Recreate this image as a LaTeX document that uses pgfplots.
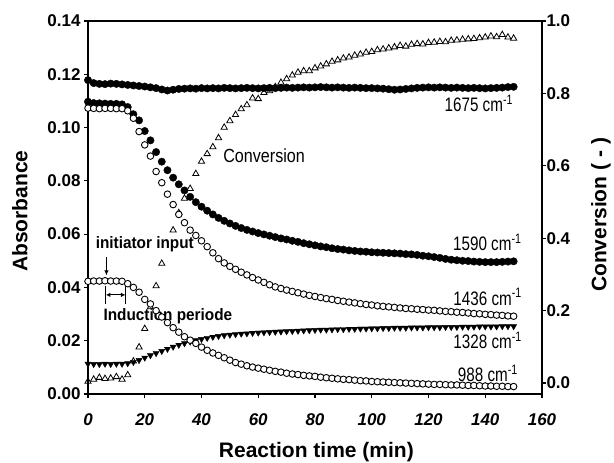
\documentclass[border=0pt]{standalone}
\usepackage{fontspec}
\setmainfont{Liberation Sans}
\usepackage{graphicx}
\usepackage{pgfplots}
\usepackage{pgfplotstable}
\pgfplotsset{compat=1.18}
\usetikzlibrary{arrows.meta}

% FTIR band absorbances and conversion during the polymerisation
\pgfplotstableread{
t    A1675  A1590  A1436  A1328  A988   conv
0    .1178  .1097  .1073  .0113  .0423  .004
2    .1167  .1092  .1072  .0112  .0424  .010
4    .1164  .1091  .1071  .0112  .0424  .015
6    .1163  .1090  .1072  .0113  .0425  .012
8    .1165  .1089  .1072  .0112  .0424  .013
10   .1164  .1089  .1071  .0113  .0424  .017
12   .1162  .1087  .1071  .0113  .0423  .010
14   .1160  .1077  .1063  .0115  .0414  .022
16   .1158  .1050  .1035  .0120  .0400  .060
18   .1156  .1027  .0985  .0127  .0382  .099
20   .1154  .0987  .0935  .0136  .0355  .150
22   .1151  .0952  .0893  .0145  .0338  .210
24   .1148  .0908  .0835  .0153  .0313  .268
26   .1143  .0872  .0793  .0161  .0289  .330
28   .1139  .0840  .0750  .0169  .0268  .380
30   .1142  .0812  .0711  .0177  .0249  .422
32   .1145  .0787  .0674  .0184  .0232  .470
34   .1146  .0764  .0643  .0190  .0215  .510
36   .1147  .0740  .0615  .0196  .0202  .537
38   .1146  .0720  .0595  .0201  .0190  .578
40   .1148  .0703  .0575  .0206  .0176  .612
42   .1147  .0688  .0553  .0210  .0164  .633
44   .1148  .0674  .0530  .0214  .0154  .652
46   .1147  .0661  .0508  .0217  .0145  .677
48   .1149  .0650  .0492  .0220  .0136  .706
50   .1148  .0640  .0479  .0222  .0127  .724
52   .1147  .0631  .0468  .0224  .0118  .741
54   .1148  .0623  .0457  .0226  .0112  .757
56   .1149  .0616  .0447  .0227  .0106  .768
58   .1148  .0610  .0437  .0229  .0101  .787
60   .1147  .0604  .0428  .0230  .0097  .785
62   .1148  .0599  .0419  .0231  .0093  .802
64   .1149  .0594  .0410  .0232  .0089  .807
66   .1148  .0589  .0402  .0233  .0085  .818
68   .1149  .0584  .0396  .0234  .0082  .830
70   .1150  .0580  .0390  .0235  .0078  .840
72   .1149  .0575  .0385  .0236  .0075  .850
74   .1150  .0571  .0380  .0237  .0073  .858
76   .1151  .0566  .0375  .0238  .0070  .862
78   .1150  .0562  .0370  .0239  .0068  .862
80   .1151  .0558  .0366  .0240  .0066  .870
82   .1152  .0554  .0362  .0241  .0063  .875
84   .1151  .0551  .0358  .0241  .0061  .881
86   .1150  .0547  .0355  .0242  .0059  .888
88   .1151  .0544  .0351  .0243  .0057  .892
90   .1150  .0542  .0348  .0243  .0055  .897
92   .1149  .0539  .0345  .0244  .0054  .900
94   .1150  .0537  .0342  .0244  .0052  .905
96   .1149  .0535  .0339  .0245  .0050  .908
98   .1148  .0534  .0336  .0245  .0049  .913
100  .1148  .0532  .0334  .0246  .0047  .915
102  .1147  .0531  .0331  .0246  .0046  .920
104  .1146  .0530  .0329  .0247  .0045  .922
106  .1144  .0529  .0327  .0247  .0044  .925
108  .1142  .0528  .0325  .0248  .0043  .928
110  .1143  .0527  .0323  .0248  .0042  .932
112  .1145  .0525  .0321  .0248  .0041  .930
114  .1147  .0524  .0320  .0249  .0040  .935
116  .1149  .0522  .0318  .0249  .0039  .937
118  .1150  .0519  .0317  .0249  .0038  .936
120  .1151  .0517  .0315  .0250  .0037  .940
122  .1150  .0514  .0314  .0250  .0036  .941
124  .1151  .0511  .0312  .0250  .0036  .943
126  .1150  .0507  .0310  .0251  .0035  .942
128  .1149  .0504  .0309  .0251  .0034  .946
130  .1150  .0502  .0307  .0251  .0034  .947
132  .1149  .0500  .0306  .0252  .0033  .949
134  .1148  .0499  .0304  .0252  .0032  .950
136  .1149  .0497  .0302  .0252  .0032  .951
138  .1148  .0496  .0301  .0253  .0031  .953
140  .1147  .0495  .0299  .0253  .0030  .955
142  .1148  .0495  .0298  .0253  .0030  .958
144  .1149  .0495  .0296  .0253  .0029  .956
146  .1150  .0496  .0295  .0254  .0029  .962
148  .1152  .0497  .0293  .0254  .0028  .955
150  .1153  .0498  .0292  .0254  .0028  .952
}\datatable

\newcommand\bandlab[1]{\scalebox{0.78}[1]{\fontsize{19.5}{19.5}\selectfont #1}}
\newcommand\notelab[1]{\scalebox{0.93}[1]{\fontsize{16.5}{16.5}\selectfont\bfseries #1}}

\pgfplotsset{
  common/.style={
    at={(0,0)}, anchor=south west,
    scale only axis, width=454pt, height=373pt,
    xmin=0, xmax=160,
    tick align=outside,
    major tick length=4pt,
    axis line style={line width=1.3pt},
    every tick/.style={line width=1.1pt, black},
    /pgf/number format/assume math mode=true,
    label style={font=\fontsize{21}{21}\selectfont\bfseries},
  },
}

\begin{document}
\begin{tikzpicture}
\path[use as bounding box] (-88pt,-69pt) rectangle (526pt,394pt);

% conversion, right-hand scale
\begin{axis}[common,
  axis y line*=right, axis x line=none,
  ymin=-0.0304, ymax=1.0,
  ytick={0,0.2,0.4,0.6,0.8,1.0},
  yticklabel style={font=\fontsize{17}{17}\selectfont\bfseries, xshift=-3pt,
    /pgf/number format/.cd, fixed, fixed zerofill, precision=1},
  ylabel={Conversion ( - )},
  ylabel style={at={(axis description cs:1.13,0.48)}, anchor=center},
]
\addplot[only marks, mark=triangle*, mark size=3.6pt,
  mark options={fill=white, draw=black, line width=0.8pt}]
  table[x=t, y=conv] {\datatable};
\end{axis}

% absorbances, left-hand scale
\begin{axis}[common,
  ymin=0, ymax=0.14,
  xtick={0,20,...,160},
  ytick={0,0.02,0.04,0.06,0.08,0.10,0.12,0.14},
  xtick pos=bottom, ytick pos=left,
  yticklabel style={font=\fontsize{17}{17}\selectfont\bfseries,
    /pgf/number format/.cd, fixed, fixed zerofill, precision=2},
  xticklabel style={font=\fontsize{17}{17}\selectfont\bfseries\itshape, yshift=-12pt},
  xlabel={Reaction time (min)},
  ylabel={Absorbance},
  xlabel style={at={(axis description cs:0.503,-0.155)}, anchor=center},
  ylabel style={at={(axis description cs:-0.150,0.49)}, anchor=center},
]
% annotations
\node[anchor=base west, fill=white, inner sep=0.5pt] at (axis cs:2.5,0.0547) {\notelab{initiator input}};
\node[anchor=base west, inner sep=0pt] at (axis cs:5.4,0.0275) {\notelab{Induction periode}};
\node[anchor=base west, inner sep=0pt] at (axis cs:47.6,0.0868) {\scalebox{0.85}[1]{\fontsize{19}{19}\selectfont Conversion}};
\draw[line width=1pt, -{Latex[length=5pt, width=4.5pt]}] (axis cs:6.5,0.0515) -- (axis cs:6.5,0.0445);
\draw[line width=1pt] (axis cs:6.3,0.0405) -- (axis cs:6.3,0.0338);
\draw[line width=1pt] (axis cs:13.2,0.0405) -- (axis cs:13.2,0.0338);
\draw[line width=1pt, {Latex[length=4.5pt, width=4.5pt]}-{Latex[length=4.5pt, width=4.5pt]}]
  (axis cs:6.3,0.0372) -- (axis cs:13.2,0.0372);

\node[anchor=base east, inner sep=0pt] at (axis cs:149.8,0.1060) {\bandlab{1675 cm\textsuperscript{-1}}};
\node[anchor=base east, inner sep=0pt] at (axis cs:152.8,0.0538) {\bandlab{1590 cm\textsuperscript{-1}}};
\node[anchor=base east, inner sep=0pt] at (axis cs:152.9,0.0334) {\bandlab{1436 cm\textsuperscript{-1}}};
\node[anchor=base east, inner sep=0pt] at (axis cs:152.9,0.0169) {\bandlab{1328 cm\textsuperscript{-1}}};
\node[anchor=base east, inner sep=0pt] at (axis cs:151.5,0.0046) {\bandlab{988 cm\textsuperscript{-1}}};

\addplot[only marks, mark=*, mark size=3.7pt, mark options={fill=black, draw=black}]
  table[x=t, y=A1675] {\datatable};
\addplot[only marks, mark=*, mark size=3.7pt, mark options={fill=black, draw=black}]
  table[x=t, y=A1590] {\datatable};
\addplot[only marks, mark=*, mark size=3.3pt, mark options={fill=white, draw=black, line width=0.9pt}]
  table[x=t, y=A1436] {\datatable};
\addplot[only marks, mark=triangle*, mark size=3.5pt, mark options={fill=black, draw=black, rotate=180}]
  table[x=t, y=A1328] {\datatable};
\addplot[only marks, mark=*, mark size=3.3pt, mark options={fill=white, draw=black, line width=0.9pt}]
  table[x=t, y=A988] {\datatable};
\end{axis}
\end{tikzpicture}
\end{document}
